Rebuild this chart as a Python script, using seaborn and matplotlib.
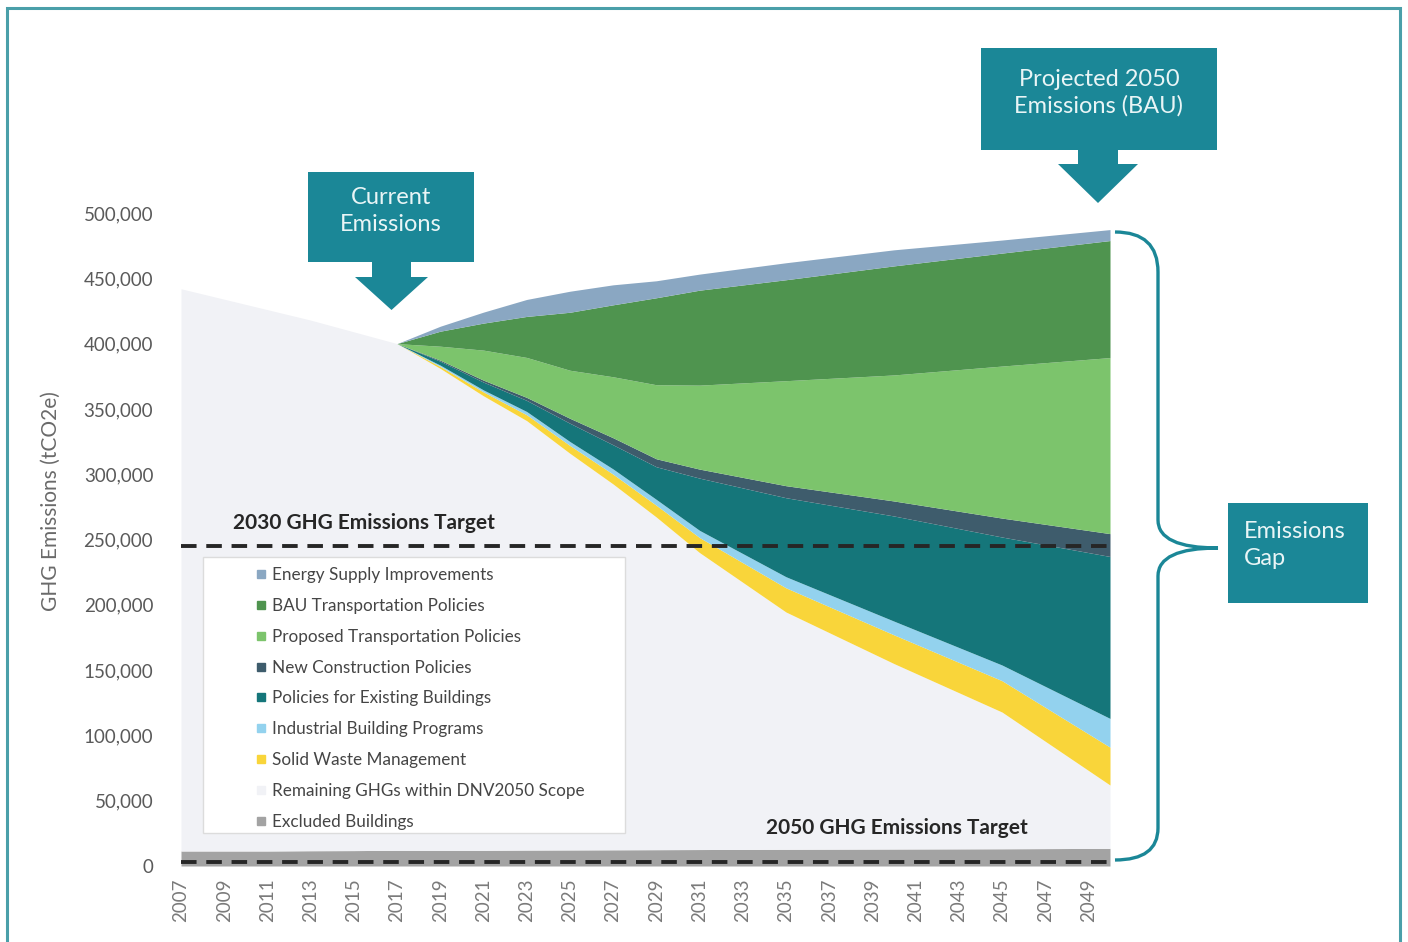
import matplotlib
matplotlib.use("Agg")
import matplotlib.pyplot as plt
import seaborn as sns
import pandas as pd
from matplotlib.patches import Polygon, Rectangle, PathPatch
from matplotlib.path import Path
from matplotlib.lines import Line2D

# ---- data (tCO2e) ----
years = [2007, 2009, 2011, 2013, 2015, 2017, 2019, 2021, 2023, 2025,
         2027, 2029, 2031, 2035, 2040, 2045, 2050]

excluded_buildings = [11500, 11500, 11500, 11700, 11800, 12000, 12000, 12000, 12200,
                      12300, 12400, 12500, 12600, 12800, 13000, 13200, 13500]
remaining_ghgs = [430500, 422500, 414500, 406300, 397200, 388000, 369000, 348000, 328800,
                  303700, 280100, 254700, 227400, 181700, 142000, 104700, 48500]
solid_waste = [0, 0, 0, 0, 0, 0, 1500, 3000, 4500, 6000, 7500, 9000, 11500,
               18500, 22000, 24000, 29000]
industrial_buildings = [0, 0, 0, 0, 0, 0, 1000, 1500, 2500, 3000, 4000, 4500, 5500,
                        8500, 10500, 12000, 22000]
existing_buildings = [0, 0, 0, 0, 0, 0, 3000, 6000, 8500, 14000, 18500, 25000, 40000,
                      60500, 80500, 98000, 124000]
new_construction = [0, 0, 0, 0, 0, 0, 800, 1500, 2300, 3800, 5400, 6100, 6900,
                    9200, 11500, 14500, 17500]
proposed_transport = [0, 0, 0, 0, 0, 0, 10700, 23000, 30600, 36800, 46700, 56700,
                      64300, 80400, 96500, 116400, 134800]
bau_transport = [0, 0, 0, 0, 0, 0, 11500, 20700, 31400, 44400, 55100, 66600, 72700,
                 77300, 83500, 86500, 89600]
energy_supply = [0, 0, 0, 0, 0, 0, 3800, 8400, 13000, 16100, 15300, 13000, 12300,
                 13000, 12300, 10000, 8400]

target_2030 = 245000
target_2050 = 3000

tick_years = list(range(2007, 2050, 2))
y_ticks = [0, 50000, 100000, 150000, 200000, 250000, 300000, 350000, 400000, 450000, 500000]

layers = [  # bottom to top
    ("Excluded Buildings", excluded_buildings, "#a3a3a3"),
    ("Remaining GHGs within DNV2050 Scope", remaining_ghgs, "#f1f2f6"),
    ("Solid Waste Management", solid_waste, "#f9d53a"),
    ("Industrial Building Programs", industrial_buildings, "#93d2ee"),
    ("Policies for Existing Buildings", existing_buildings, "#15767a"),
    ("New Construction Policies", new_construction, "#3e5c6c"),
    ("Proposed Transportation Policies", proposed_transport, "#7cc46c"),
    ("BAU Transportation Policies", bau_transport, "#4f944f"),
    ("Energy Supply Improvements", energy_supply, "#8aa7c2"),
]

df = pd.DataFrame({"year": years, **{name: vals for name, vals, _ in layers}})

# ---- styling ----
sns.set_theme(style="white")
plt.rcParams["font.family"] = ["Lato", "DejaVu Sans"]

W, H = 1408, 942
fig = plt.figure(figsize=(W / 100, H / 100), dpi=100)
fig.patch.set_facecolor("white")


def fx(px):
    return px / W


def fy(py):
    return 1 - py / H


ax = fig.add_axes([fx(181), fy(866), fx(929), 653 / H])
ax.set_facecolor("white")

ax.stackplot(df["year"], *[df[name] for name, _, _ in layers],
             colors=[c for _, _, c in layers], linewidth=0)

# target lines
tgt = pd.DataFrame({"year": [years[0], years[-1]]})
for val in (target_2030, target_2050):
    sns.lineplot(x=tgt["year"], y=[val, val], ax=ax, color="#262626",
                 linewidth=2.8, dashes=False, linestyle=(0, (4.0, 2.5)),
                 clip_on=False, zorder=5)

ax.text(2009.4, target_2030 + 17500, "2030 GHG Emissions Target",
        fontsize=15, fontweight="bold", color="#262626", ha="left", va="center")
ax.text(2034.1, target_2050 + 26000, "2050 GHG Emissions Target",
        fontsize=15, fontweight="bold", color="#262626", ha="left", va="center")

ax.set_xlim(years[0], years[-1])
ax.set_ylim(y_ticks[0], y_ticks[-1])
ax.set_xticks(tick_years)
ax.set_xticklabels([str(y) for y in tick_years], rotation=90, fontsize=13.5,
                   color="#7a7a7a")
ax.set_yticks(y_ticks)
ax.set_yticklabels([f"{v:,}" for v in y_ticks], fontsize=13.5, color="#5a5a5a")
ax.tick_params(axis="both", length=0)
ax.tick_params(axis="y", pad=20)
ax.tick_params(axis="x", pad=9)
for s in ax.spines.values():
    s.set_visible(False)
ax.set_xlabel("")
ax.set_ylabel("GHG Emissions (tCO2e)", fontsize=15, color="#6a6a6a")
ax.yaxis.set_label_coords((61 - 181) / 929, (866 - 501) / 653)

# ---- legend ----
ax.add_patch(Rectangle((fx(203), fy(833)), fx(422), (833 - 557) / H,
                       transform=fig.transFigure, facecolor="white",
                       edgecolor="#dcdcdc", linewidth=1.0, zorder=4,
                       clip_on=False))
handles = [Line2D([], [], marker="s", linestyle="none", markersize=6,
                  markerfacecolor=c, markeredgecolor=c)
           for _, _, c in reversed(layers)]
labels = [name for name, _, _ in reversed(layers)]
leg = ax.legend(handles, labels, loc="upper left",
                bbox_to_anchor=(fx(255), fy(567)), bbox_transform=fig.transFigure,
                frameon=False, fontsize=12.3, labelspacing=0.87,
                handlelength=0.7, handletextpad=0.3, borderpad=0,
                borderaxespad=0)
for t in leg.get_texts():
    t.set_color("#454545")
leg.set_zorder(6)

# ---- callouts ----
teal = "#1b8797"


def callout(box, stem, head, tip_y, lines, text_y, ha="center", text_x=None):
    x0, y0, x1, y1 = box
    sx0, sx1, sy1 = stem
    hx0, hx1 = head
    if sx0 is None:
        pts = [(x0, y0), (x1, y0), (x1, y1), (x0, y1)]
    else:
        tip_x = (hx0 + hx1) / 2
        pts = [(x0, y0), (x1, y0), (x1, y1), (sx1, y1), (sx1, sy1), (hx1, sy1),
               (tip_x, tip_y), (hx0, sy1), (sx0, sy1), (sx0, y1), (x0, y1)]
    poly = Polygon([(fx(a), fy(b)) for a, b in pts], closed=True,
                   transform=fig.transFigure, facecolor=teal, edgecolor="none",
                   zorder=7)
    fig.patches.append(poly)
    tx = (x0 + x1) / 2 if text_x is None else text_x
    fig.text(fx(tx), fy(text_y), lines, ha=ha, va="center", fontsize=17,
             color="#e9f5f6", linespacing=1.3, zorder=8)


callout((308, 172, 474, 262), (372, 411, 277), (355, 428), 310,
        "Current\nEmissions", 211)
callout((981, 48, 1217, 150), (1078, 1118, 164), (1058, 1138), 203,
        "Projected 2050\nEmissions (BAU)", 93)
callout((1228, 503, 1368, 603), (None, None, None), (None, None), None,
        "Emissions\nGap", 545, ha="left", text_x=1244)

# brace spanning the gap
brace_pts = [(1115, 232), (1158, 232), (1158, 272),
             (1158, 520),
             (1158, 548), (1218, 548),
             (1158, 548), (1158, 576),
             (1158, 828),
             (1158, 860), (1115, 860)]
codes = [Path.MOVETO, Path.CURVE3, Path.CURVE3,
         Path.LINETO,
         Path.CURVE3, Path.CURVE3,
         Path.CURVE3, Path.CURVE3,
         Path.LINETO,
         Path.CURVE3, Path.CURVE3]
brace = PathPatch(Path([(fx(a), fy(b)) for a, b in brace_pts], codes),
                  transform=fig.transFigure, facecolor="none", edgecolor=teal,
                  linewidth=2.4, zorder=7)
fig.patches.append(brace)

# outer frame
fig.patches.append(Rectangle((fx(7), fy(948)), fx(1393), (948 - 8) / H,
                             transform=fig.transFigure, facecolor="none",
                             edgecolor="#4a9fa9", linewidth=2.2, zorder=9))

fig.savefig("out.png", dpi=100, facecolor="white")
